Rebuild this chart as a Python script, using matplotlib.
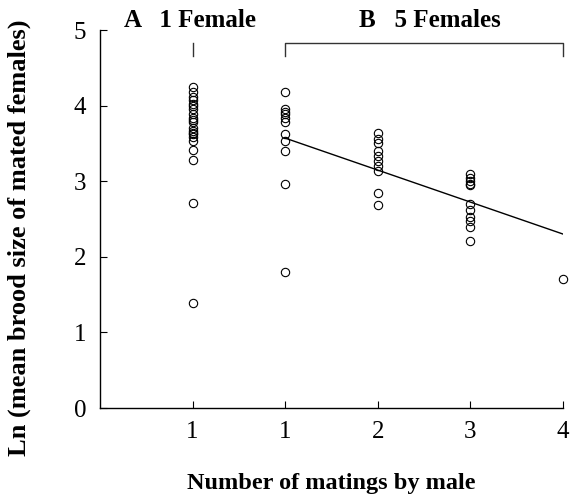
#!/usr/bin/env python3
"""Ln mean brood size vs number of matings by male (1 female vs 5 females)."""
import matplotlib
matplotlib.use("Agg")
import matplotlib.pyplot as plt
import numpy as np

plt.rcParams["font.family"] = ["Liberation Serif", "DejaVu Serif"]

# x slots: 1 = treatment A (1 female), 2..5 = treatment B matings 1..4
TICK_LABELS = ["1", "1", "2", "3", "4"]
A_ONE = [4.24, 4.18, 4.11, 4.07, 4.02, 4.00, 3.96, 3.89, 3.84, 3.81, 3.78,
         3.71, 3.67, 3.64, 3.62, 3.58, 3.53, 3.41, 3.28, 2.71, 1.39]
B_ONE = [4.18, 3.96, 3.91, 3.89, 3.84, 3.78, 3.62, 3.53, 3.40, 2.96, 1.80]
B_TWO = [3.64, 3.56, 3.51, 3.40, 3.33, 3.27, 3.20, 3.14, 2.84, 2.69]
B_THREE = [3.09, 3.04, 3.00, 2.96, 2.95, 2.70, 2.62, 2.53, 2.47, 2.40, 2.21]
B_FOUR = [1.70]
GROUPS = [A_ONE, B_ONE, B_TWO, B_THREE, B_FOUR]

# regression for treatment B: ln(brood) = FIT_B0 + FIT_B1 * matings
FIT_B0 = 3.993
FIT_B1 = -0.423
FIT_MATINGS = [1, 4]


def main():
    fig = plt.figure(figsize=(5.74, 4.96), dpi=100)
    ax = fig.add_axes([0.1742, 0.1774, 0.8066, 0.7621])

    for i, vals in enumerate(GROUPS):
        ax.plot(np.full(len(vals), i + 1), vals, "o", mfc="none", mec="black",
                ms=6, mew=0.8, clip_on=False)

    m = np.array(FIT_MATINGS, dtype=float)
    ax.plot(m + 1, FIT_B0 + FIT_B1 * m, color="black", lw=1.0)

    ax.set_xlim(0, 5)
    ax.set_ylim(0, 5)
    ax.set_xticks(range(1, 6), TICK_LABELS)
    ax.set_yticks(range(0, 6))
    for s in ("top", "right"):
        ax.spines[s].set_visible(False)
    for s in ("left", "bottom"):
        ax.spines[s].set_linewidth(1.0)
    ax.tick_params(direction="in", length=5, width=0.8, labelsize=18,
                   colors="black")
    ax.tick_params(axis="x", pad=9)
    ax.tick_params(axis="y", pad=10)

    # treatment brackets
    ax.plot([1, 1], [4.66, 4.83], color="#333333", lw=1.0, clip_on=False)
    ax.plot([2, 2, 5, 5], [4.66, 4.83, 4.83, 4.66], color="#333333", lw=1.0,
            clip_on=False)
    ax.text(0.97, 5.13, "A   1 Female", ha="center", va="center",
            fontsize=18, fontweight="bold", clip_on=False)
    ax.text(3.56, 5.13, "B   5 Females", ha="center", va="center",
            fontsize=18, fontweight="bold", clip_on=False)

    ax.set_xlabel("Number of matings by male", fontsize=17.5,
                  fontweight="bold", labelpad=22)
    ax.set_ylabel("Ln (mean brood size of mated females)", fontsize=19,
                  fontweight="bold")
    ax.yaxis.set_label_coords(-0.148, 0.45)

    fig.savefig("out.png", dpi=100)


if __name__ == "__main__":
    main()
